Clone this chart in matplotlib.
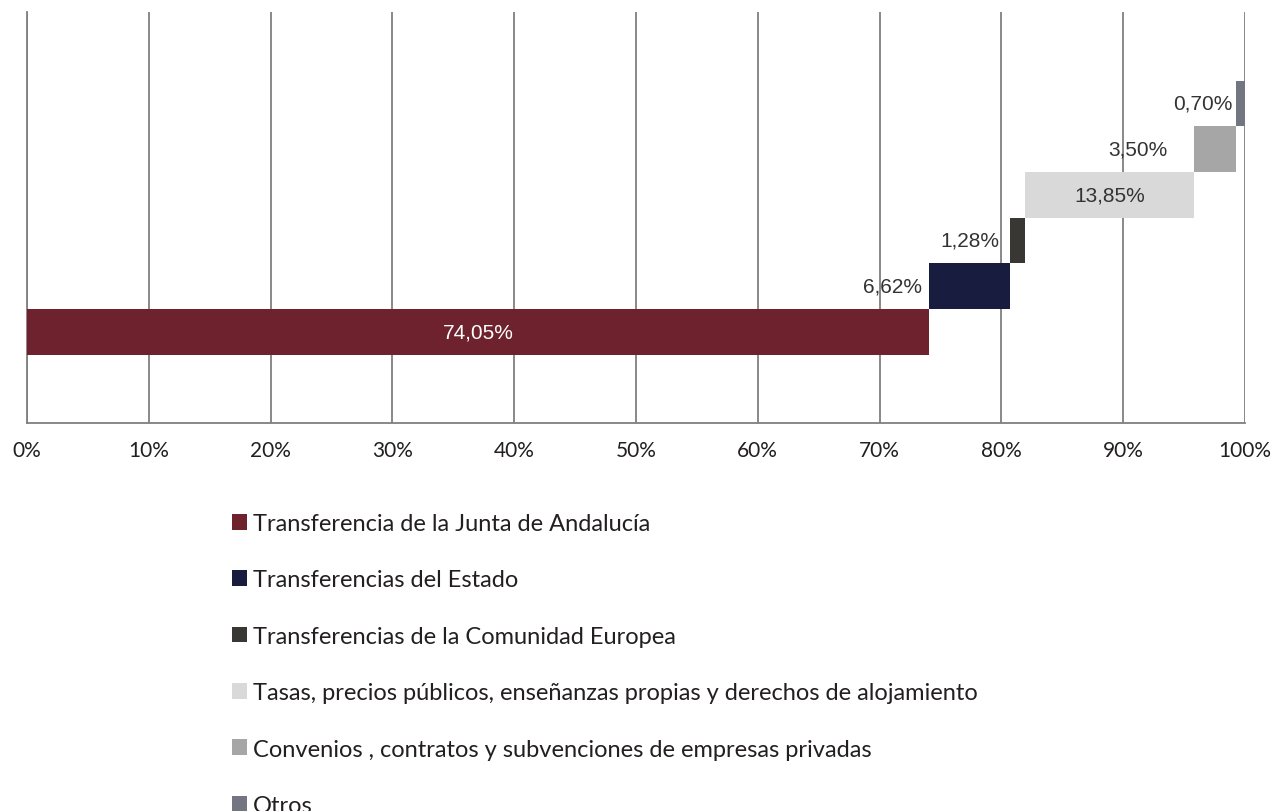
import numpy as np
import matplotlib
matplotlib.use("Agg")
import matplotlib.pyplot as plt

# Data
categories = [
    "Transferencia de la Junta de Andalucía",
    "Transferencias del Estado",
    "Transferencias de la Comunidad Europea",
    "Tasas, precios públicos, enseñanzas propias y derechos de alojamiento",
    "Convenios , contratos y subvenciones de empresas privadas",
    "Otros",
]
values = [74.05, 6.62, 1.28, 13.85, 3.50, 0.70]
value_labels = ["74,05%", "6,62%", "1,28%", "13,85%", "3,50%", "0,70%"]
tick_values = list(range(0, 101, 10))
tick_labels = [f"{t}%" for t in tick_values]

colors = ["#6d222d", "#181d3f", "#393733", "#d9d9d9", "#a6a6a6", "#737680"]

# where each label goes: inside the bar or to its left (offset in points)
label_inside = [True, False, False, True, False, False]
label_offset = [0, 5, 7, 0, 19, 3]

starts = np.concatenate([[0], np.cumsum(values)[:-1]])
ypos = np.arange(len(values))

fig = plt.figure(figsize=(12.74, 8.12), dpi=100)
ax = fig.add_axes([27 / 1274, 1 - 424 / 812, (1245 - 27) / 1274, 411 / 812])

bars = ax.barh(ypos, values, left=starts, height=1.0, color=colors, zorder=3)

for i, (b, lab) in enumerate(zip(bars, value_labels)):
    if label_inside[i]:
        ax.text(starts[i] + values[i] / 2, ypos[i], lab, ha="center", va="center",
                fontsize=15, family="Liberation Sans",
                color="white" if i == 0 else "#333333", zorder=4)
    else:
        ax.annotate(lab, (starts[i], ypos[i]), xytext=(-label_offset[i], 0),
                    textcoords="offset points", ha="right", va="center",
                    fontsize=15, family="Liberation Sans", color="#333333", zorder=4)

ax.set_xlim(0, 100)
ax.set_ylim(-2, 7)
ax.set_xticks(tick_values)
ax.set_xticklabels(tick_labels, family="Lato", fontsize=15, color="#231f20")
ax.set_yticks([])
ax.tick_params(axis="x", length=0, pad=12)
ax.grid(axis="x", color="#7f7f7f", linewidth=1.3, zorder=0)
for s in ["top", "right"]:
    ax.spines[s].set_visible(False)
for s in ["left", "bottom"]:
    ax.spines[s].set_color("#7f7f7f")
    ax.spines[s].set_linewidth(1.3)

fig.legend(bars, categories, loc="upper left",
           bbox_to_anchor=(232 / 1274, 1 - 514 / 812), frameon=False,
           prop={"family": "Lato", "size": 17}, labelcolor="#231f20",
           handlelength=0.65, handleheight=0.65, handletextpad=0.25,
           labelspacing=1.5, borderpad=0, borderaxespad=0)

fig.savefig("out.png", dpi=100)
